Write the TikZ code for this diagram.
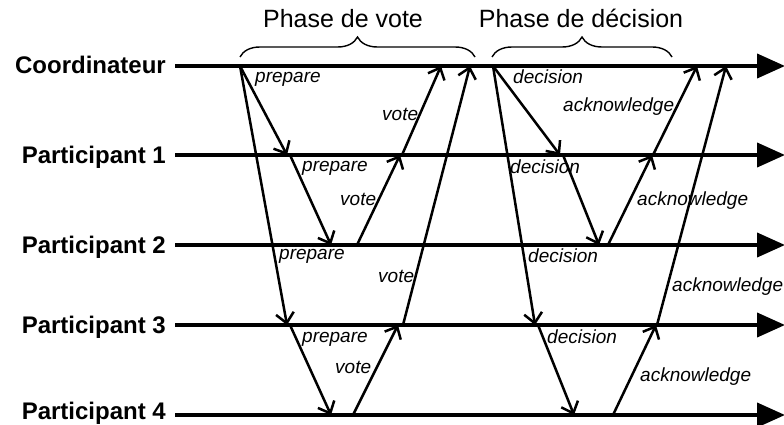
\documentclass[tikz,border=0pt]{standalone}
\usepackage{fontspec}
\setmainfont{Liberation Sans}
\usetikzlibrary{arrows.meta,decorations.pathreplacing}
\begin{document}
\begin{tikzpicture}[x=1pt,y=-1pt,
  lifeline/.style={line width=4pt,-{Triangle[length=28pt,width=24pt]}},
  msg/.style={line width=2.5pt,-{Straight Barb[length=10pt,width=18pt]}},
  who/.style={font=\fontsize{24}{28}\selectfont\bfseries,anchor=base east,inner sep=0pt},
  lbl/.style={font=\fontsize{19}{22}\selectfont\itshape,anchor=base west,inner sep=0pt},
  phase/.style={font=\fontsize{25}{30}\selectfont,anchor=base,inner sep=0pt},
  phasebrace/.style={line width=1.4pt,decorate,decoration={brace,amplitude=20pt}},
]
\useasboundingbox (0,0) rectangle (784,425);

% lifelines of the coordinator and the participants
\node[who] (lc)  at (166,74)  {Coordinateur};
\node[who] (lp1) at (166,163) {Participant 1};
\node[who] (lp2) at (166,253) {Participant 2};
\node[who] (lp3) at (166,333) {Participant 3};
\node[who] (lp4) at (166,419) {Participant 4};
\coordinate (c0)  at (175,66);  \coordinate (c1)  at (785,66);
\coordinate (p10) at (175,155); \coordinate (p11) at (785,155);
\coordinate (p20) at (175,245); \coordinate (p21) at (785,245);
\coordinate (p30) at (175,325); \coordinate (p31) at (785,325);
\coordinate (p40) at (175,415); \coordinate (p41) at (785,415);
\draw[lifeline] (c0) -- (c1);
\draw[lifeline] (p10) -- (p11);
\draw[lifeline] (p20) -- (p21);
\draw[lifeline] (p30) -- (p31);
\draw[lifeline] (p40) -- (p41);

% phase headings with their braces
\coordinate (bv0) at (240,57); \coordinate (bv1) at (475,57);
\coordinate (bd0) at (492,57); \coordinate (bd1) at (672,57);
\draw[phasebrace] (bv0) -- (bv1);
\draw[phasebrace] (bd0) -- (bd1);
\node[phase] (tv) at (343,28) {Phase de vote};
\node[phase] (td) at (581,28) {Phase de décision};

% vote phase: event points
\coordinate (cP)  at (240,66);
\coordinate (p1a) at (287,155);
\coordinate (p1P) at (290,155);
\coordinate (p2a) at (331,245);
\coordinate (p3a) at (287,325);
\coordinate (p3P) at (290,325);
\coordinate (p4a) at (331,415);
\coordinate (p4V) at (353,415);
\coordinate (p3b) at (398,325);
\coordinate (p3V) at (403,325);
\coordinate (p2V) at (357,245);
\coordinate (p1b) at (400,155);
\coordinate (p1V) at (402,155);
\coordinate (cV1) at (441,66);
\coordinate (cV3) at (470,66);

\draw[msg] (cP) -- (p1a);
\draw[msg] (cP) -- (p3a);
\draw[msg] (p1P) -- (p2a);
\draw[msg] (p3P) -- (p4a);
\draw[msg] (p4V) -- (p3b);
\draw[msg] (p2V) -- (p1b);
\draw[msg] (p3V) -- (cV3);
\draw[msg] (p1V) -- (cV1);

% decision phase: event points
\coordinate (cD)  at (493,66);
\coordinate (q1a) at (560,155);
\coordinate (q1D) at (563,155);
\coordinate (q2a) at (599,245);
\coordinate (q3a) at (535,325);
\coordinate (q3D) at (538,325);
\coordinate (q4a) at (574,415);
\coordinate (q4A) at (613,415);
\coordinate (q3b) at (656,325);
\coordinate (q3A) at (657,325);
\coordinate (q2A) at (608,245);
\coordinate (q1b) at (652,155);
\coordinate (q1A) at (653,155);
\coordinate (cA1) at (697,66);
\coordinate (cA3) at (726,66);

\draw[msg] (cD) -- (q1a);
\draw[msg] (cD) -- (q3a);
\draw[msg] (q1D) -- (q2a);
\draw[msg] (q3D) -- (q4a);
\draw[msg] (q4A) -- (q3b);
\draw[msg] (q2A) -- (q1b);
\draw[msg] (q3A) -- (cA3);
\draw[msg] (q1A) -- (cA1);

% message labels
\node[lbl] (l1)  at (255,83)  {prepare};
\node[lbl] (l2)  at (302,171) {prepare};
\node[lbl] (l3)  at (279,259) {prepare};
\node[lbl] (l4)  at (302,342) {prepare};
\node[lbl] (l5)  at (382,121) {vote};
\node[lbl] (l6)  at (340,205) {vote};
\node[lbl] (l7)  at (378,282) {vote};
\node[lbl] (l8)  at (335,373) {vote};
\node[lbl] (l9)  at (513,84)  {decision};
\node[lbl] (l10) at (510,173) {decision};
\node[lbl] (l11) at (528,262) {decision};
\node[lbl] (l12) at (547,343) {decision};
\node[lbl] (l13) at (563,112) {acknowledge};
\node[lbl] (l14) at (637,205) {acknowledge};
\node[lbl] (l15) at (672,291) {acknowledge};
\node[lbl] (l16) at (640,381) {acknowledge};
\end{tikzpicture}
\end{document}
